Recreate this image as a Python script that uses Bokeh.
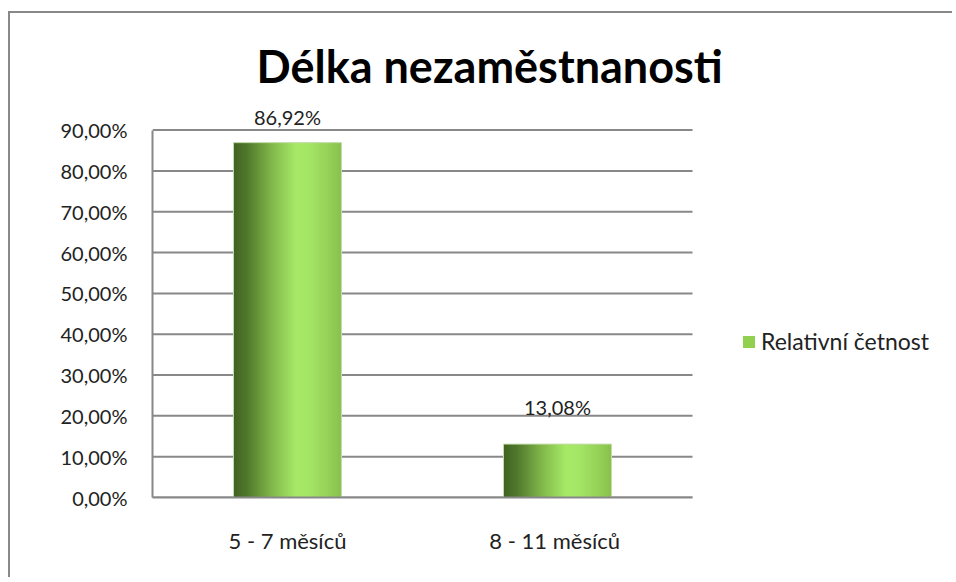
from bokeh.plotting import figure
from bokeh.models import (ColumnDataSource, FixedTicker, Legend, LegendItem, Range1d)
from bokeh.transform import dodge
from bokeh.core.properties import value
from bokeh.embed import file_html
from bokeh.resources import INLINE

# ---- data ----
categories = ["5 - 7 měsíců", "8  - 11 měsíců"]
values = [86.92, 13.08]
value_labels = ["86,92%", "13,08%"]
y_ticks = [0, 10, 20, 30, 40, 50, 60, 70, 80, 90]
y_tick_labels = ["0,00%", "10,00%", "20,00%", "30,00%", "40,00%",
                 "50,00%", "60,00%", "70,00%", "80,00%", "90,00%"]
series_name = "Relativní četnost"
title_text = "Délka nezaměstnanosti"

# style-only: vertical lift of the value labels (px)
label_lift = [-26, -37]

FONT = "Lato"

cat_pos = list(range(len(categories)))          # category slots 0, 1
x_lo, x_hi = -0.5, len(categories) - 0.5        # extent of the category axis

p = figure(x_range=Range1d(x_lo, 2.4), y_range=(0, 97), width=944, height=566,
           output_backend="svg", toolbar_location=None,
           min_border_left=142, min_border_right=19,
           min_border_top=88, min_border_bottom=82,
           title=title_text,
           margin=(11, 0, 0, 8),
           styles={"border-top": "2px solid #888888",
                   "border-left": "2px solid #888888"})

p.title.text_font = FONT
p.title.text_font_style = "bold"
p.title.text_font_size = "45px"
p.title.text_color = "#000000"
p.title.align = "left"
p.title.offset = 104
p.title.standoff = 17

p.outline_line_color = None
p.background_fill_color = "white"
p.border_fill_color = "white"

# gridlines limited to the category area
p.segment(x0=x_lo, x1=x_hi, y0=y_ticks, y1=y_ticks,
          line_color="#888888", line_width=2, level="underlay")

src = ColumnDataSource(dict(x=cat_pos, val=values, lbl=value_labels,
                            lift=label_lift))

BAR_W = 0.4

# base bar in the series colour (also provides the legend swatch)
base = p.vbar(x="x", top="val", width=BAR_W, source=src,
              fill_color="#92d050", line_color=None)

# gradient overlay made of thin slices
stops = [(0.0, (0x3c, 0x5c, 0x20)), (0.15, (0x55, 0x7e, 0x30)),
         (0.35, (0x80, 0xb6, 0x4a)), (0.58, (0xa6, 0xea, 0x68)),
         (0.70, (0xa4, 0xe6, 0x66)), (0.88, (0x96, 0xd2, 0x58)),
         (1.0, (0x88, 0xc0, 0x4e))]


def grad(t):
    for (t0, c0), (t1, c1) in zip(stops[:-1], stops[1:]):
        if t0 <= t <= t1:
            f = (t - t0) / (t1 - t0) if t1 > t0 else 0
            return "#%02x%02x%02x" % tuple(int(round(a + (b - a) * f)) for a, b in zip(c0, c1))
    return "#%02x%02x%02x" % stops[-1][1]


N = 110
sw = BAR_W / N
for i in range(N):
    t = (i + 0.5) / N
    off = -BAR_W / 2 + (i + 0.5) * sw
    p.vbar(x=dodge("x", off), top="val", width=sw * 1.6,
           source=src, fill_color=grad(t), line_color=None)

# thin outline of bars
p.vbar(x="x", top="val", width=BAR_W, source=src, fill_color=None,
       line_color="#c4dcaa", line_width=1)

# value labels
p.text(x="x", y="val", text="lbl", source=src, y_offset="lift",
       text_align="center", text_baseline="middle",
       text_font=value(FONT), text_font_size="20px",
       text_color="#222222")

# legend
legend = Legend(items=[LegendItem(label=series_name, renderers=[base], index=0)],
                location=(589, 142), orientation="vertical",
                border_line_color=None, background_fill_alpha=0,
                glyph_width=15, glyph_height=15, label_standoff=5,
                label_text_font_size="23px", label_text_color="#222222",
                padding=0, margin=0, spacing=0)
legend.label_text_font = FONT
p.add_layout(legend, "center")

# axes
p.xaxis.ticker = FixedTicker(ticks=cat_pos)
p.xaxis.major_label_overrides = {t: s for t, s in zip(cat_pos, categories)}
p.xaxis.bounds = (x_lo, x_hi)
p.yaxis.ticker = FixedTicker(ticks=y_ticks)
p.yaxis.major_label_overrides = {t: s for t, s in zip(y_ticks, y_tick_labels)}
p.yaxis.bounds = (0, 90)
for ax in (p.xaxis[0], p.yaxis[0]):
    ax.axis_line_color = "#888888"
    ax.axis_line_width = 2
    ax.major_tick_line_color = None
    ax.minor_tick_line_color = None
    ax.major_tick_out = 0
    ax.major_tick_in = 0
    ax.major_label_text_font = FONT
    ax.major_label_text_color = "#222222"
p.yaxis.major_label_text_font_size = "20px"
p.xaxis.major_label_text_font_size = "22px"
p.yaxis.major_label_standoff = 25
p.xaxis.major_label_standoff = 29

p.xgrid.grid_line_color = None
p.ygrid.grid_line_color = None

open("out.html", "w").write(file_html(p, INLINE))
